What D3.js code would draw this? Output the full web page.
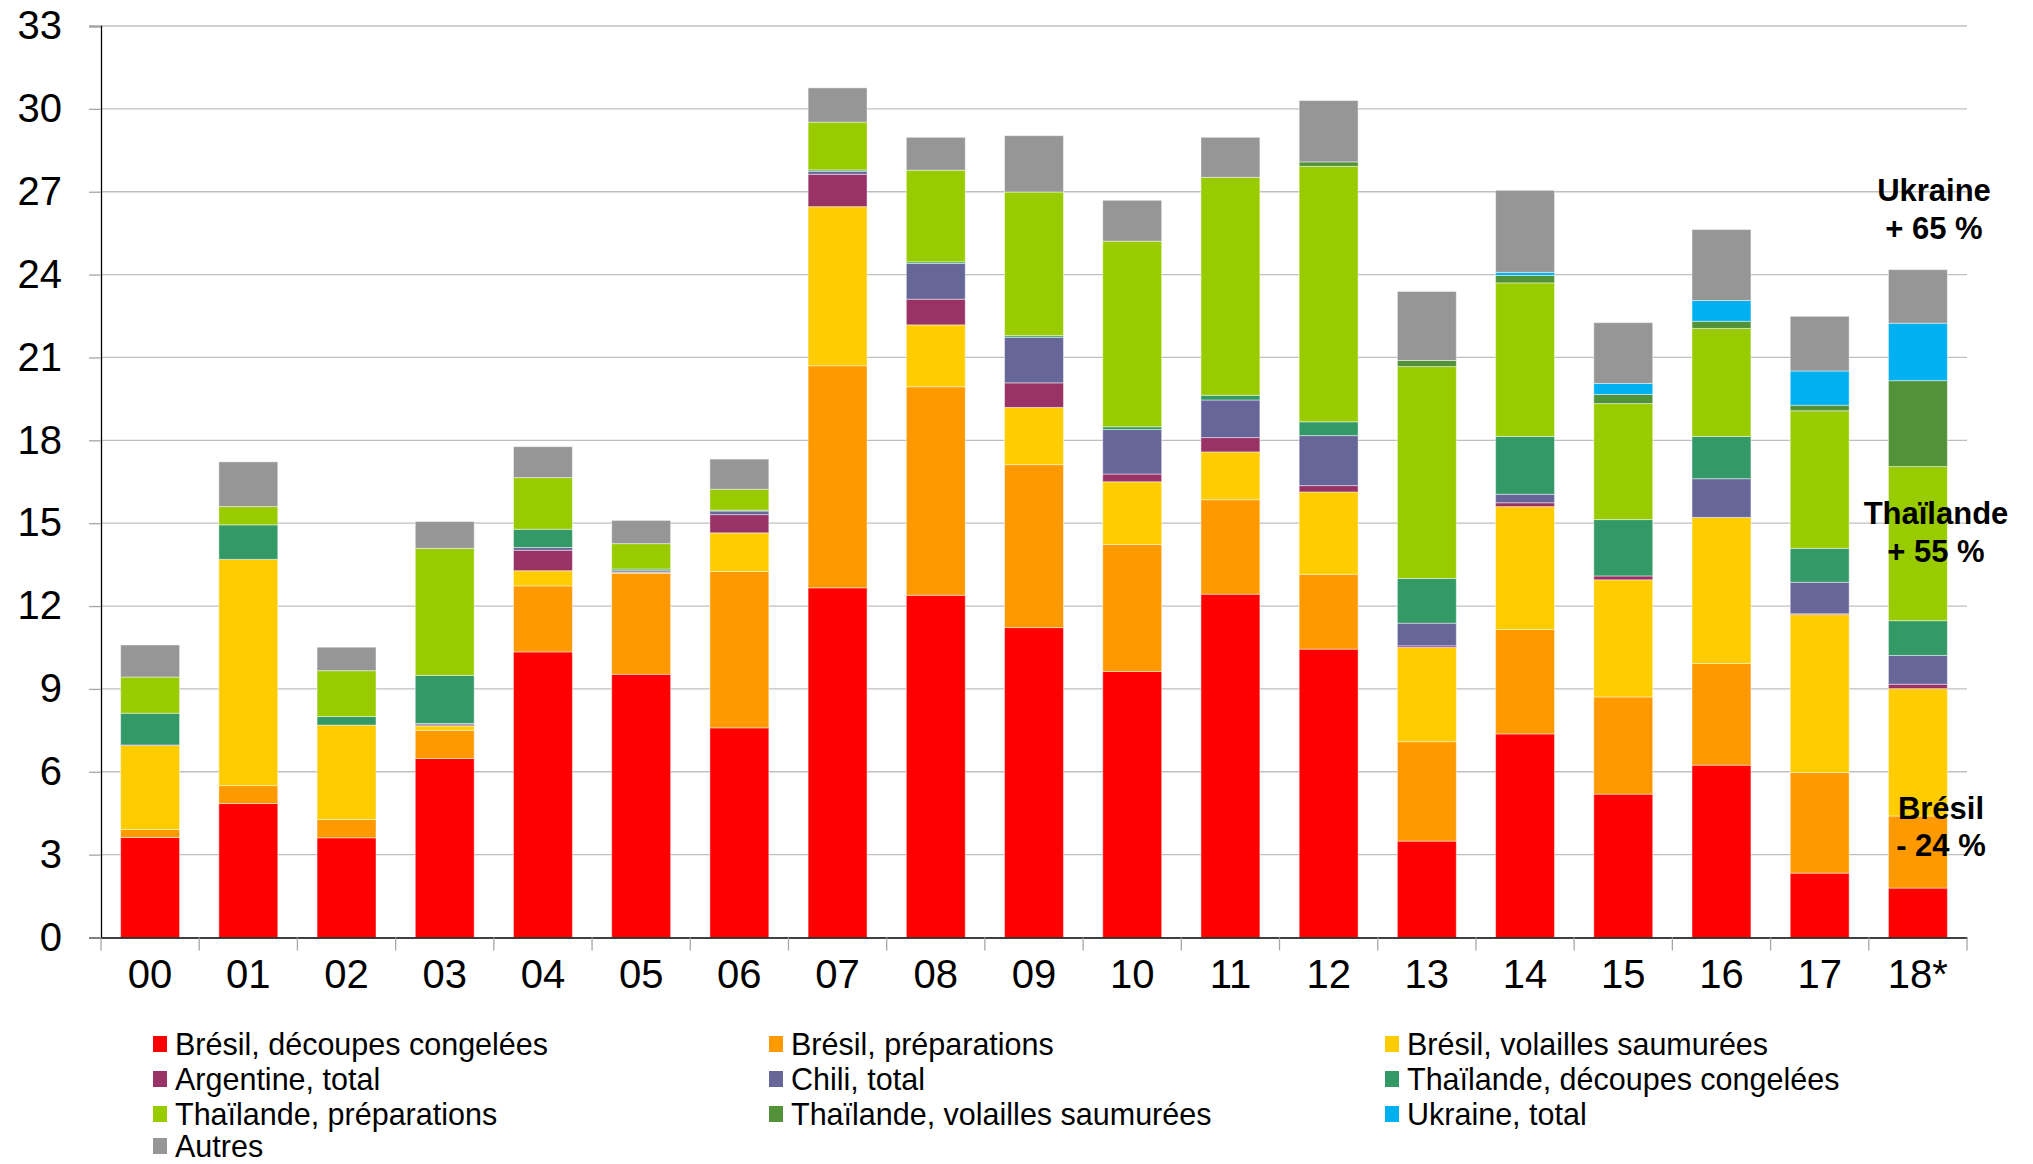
<!DOCTYPE html>
<html>
<head>
<meta charset="utf-8">
<script src="https://cdn.jsdelivr.net/npm/d3@7/dist/d3.min.js"></script>
<style>
  html, body { margin: 0; padding: 0; background: #fff; }
  svg { display: block; font-family: "Liberation Sans", Arial, sans-serif; }
</style>
</head>
<body>
<svg id="chart" width="2033" height="1164"></svg>
<script>
// Years (2018 partial)
const categories = ["00","01","02","03","04","05","06","07","08","09","10","11","12","13","14","15","16","17","18*"];

// Import volumes by origin and product
const bresilDecoupes     = [3.62,4.85,3.61,6.48,10.34,9.53,7.59,12.66,12.39,11.22,9.63,12.43,10.44,3.49,7.37,5.19,6.24,2.33,1.79];
const bresilPreparations = [0.29,0.65,0.66,1.02,2.39,3.66,5.66,8.04,7.55,5.90,4.60,3.42,2.71,3.60,3.78,3.52,3.68,3.64,2.61];
const bresilSaumurees    = [3.04,8.19,3.42,0.16,0.55,0.02,1.40,5.76,2.24,2.07,2.27,1.73,2.98,3.41,4.45,4.24,5.29,5.72,4.61];
const argentine          = [0.02,0.00,0.00,0.04,0.74,0.02,0.66,1.17,0.93,0.89,0.28,0.52,0.23,0.06,0.14,0.14,0.00,0.03,0.16];
const chili              = [0.00,0.00,0.00,0.05,0.10,0.05,0.13,0.11,1.29,1.65,1.61,1.36,1.81,0.82,0.31,0.00,1.40,1.14,1.04];
const thaiDecoupes       = [1.15,1.25,0.31,1.74,0.66,0.06,0.03,0.05,0.06,0.06,0.10,0.17,0.50,1.62,2.09,2.04,1.53,1.23,1.26];
const thaiPreparations   = [1.31,0.66,1.66,4.60,1.87,0.92,0.76,1.73,3.32,5.20,6.72,7.89,9.25,7.67,5.56,4.20,3.91,4.98,5.58];
const thaiSaumurees      = [0.00,0.00,0.00,0.00,0.00,0.00,0.00,0.00,0.00,0.00,0.00,0.00,0.16,0.22,0.27,0.33,0.26,0.20,3.11];
const ukraine            = [0.00,0.00,0.00,0.00,0.00,0.00,0.00,0.00,0.00,0.00,0.00,0.00,0.00,0.00,0.11,0.40,0.75,1.24,2.08];
const autres             = [1.16,1.62,0.85,0.97,1.12,0.84,1.09,1.24,1.19,2.04,1.48,1.45,2.22,2.50,2.97,2.20,2.57,1.98,1.94];

const seriesNames = [
  "Brésil, découpes congelées", "Brésil, préparations", "Brésil, volailles saumurées",
  "Argentine, total", "Chili, total", "Thaïlande, découpes congelées",
  "Thaïlande, préparations", "Thaïlande, volailles saumurées", "Ukraine, total",
  "Autres"
];
const seriesValues = [bresilDecoupes, bresilPreparations, bresilSaumurees, argentine, chili,
  thaiDecoupes, thaiPreparations, thaiSaumurees, ukraine, autres];
const seriesColors = ["#ff0000","#ff9900","#ffcc00","#993366","#666699",
  "#339966","#99cc00","#529339","#00b0f0","#969696"];

const yTicks = [0,3,6,9,12,15,18,21,24,27,30,33];

// Callout labels at the right end of the chart
const notes = [
  { lines: ["Ukraine", "+ 65 %"], x: 1934, y: [190, 228] },
  { lines: ["Thaïlande", "+ 55 %"], x: 1936, y: [513, 551] },
  { lines: ["Brésil", "- 24 %"], x: 1941, y: [808, 845] }
];

// Build row table for stacking
const rows = categories.map((c, i) => {
  const r = { cat: c };
  seriesNames.forEach((s, k) => { r[s] = seriesValues[k][i]; });
  return r;
});

const svg = d3.select("#chart");
const plot = { left: 101, right: 1967, top: 26, bottom: 937.5 };

const x = d3.scaleBand().domain(categories).range([plot.left, plot.right]).paddingInner(0.4).paddingOuter(0.2);
const y = d3.scaleLinear().domain([0, 33]).range([plot.bottom, plot.top]);
const color = d3.scaleOrdinal().domain(seriesNames).range(seriesColors);

// Gridlines
svg.append("g")
  .selectAll("line")
  .data(yTicks.filter(t => t > 0))
  .join("line")
  .attr("x1", plot.left).attr("x2", plot.right)
  .attr("y1", d => y(d)).attr("y2", d => y(d))
  .attr("stroke", "#bfbfbf").attr("stroke-width", 1.3);

// Stacked bars
const stacked = d3.stack().keys(seriesNames)(rows);
svg.append("g")
  .selectAll("g")
  .data(stacked)
  .join("g")
  .attr("fill", d => color(d.key))
  .selectAll("rect")
  .data(d => d)
  .join("rect")
  .attr("x", d => x(d.data.cat))
  .attr("width", x.bandwidth())
  .attr("y", d => y(d[1]))
  .attr("height", d => Math.max(0, y(d[0]) - y(d[1])))
  .attr("stroke", "#ffffff")
  .attr("stroke-opacity", 0.45)
  .attr("stroke-width", 1);

// Y axis
const yAxis = d3.axisLeft(y).tickValues(yTicks).tickSize(12).tickPadding(27).tickFormat(d3.format("d"));
const gy = svg.append("g").attr("transform", `translate(${plot.left},0)`).call(yAxis);
gy.select(".domain").attr("stroke", "#000").attr("stroke-width", 1.3);
gy.selectAll(".tick line").attr("stroke", "#a6a6a6").attr("stroke-width", 1.3);
gy.selectAll(".tick text").attr("font-size", 40).attr("fill", "#000")
  .attr("font-family", "'Liberation Sans', Arial, sans-serif");

// X axis with ticks on band boundaries
const xAxis = d3.axisBottom(x).tickSize(0).tickPadding(22);
const gx = svg.append("g").attr("transform", `translate(0,${plot.bottom})`).call(xAxis);
gx.select(".domain").attr("stroke", "#000").attr("stroke-width", 1.5);
gx.selectAll(".tick text").attr("font-size", 40).attr("fill", "#000")
  .attr("font-family", "'Liberation Sans', Arial, sans-serif");
const step = x.step();
const bounds = d3.range(categories.length + 1).map(i => plot.left + i * step);
svg.append("g")
  .selectAll("line")
  .data(bounds)
  .join("line")
  .attr("x1", d => d).attr("x2", d => d)
  .attr("y1", plot.bottom).attr("y2", plot.bottom + 13)
  .attr("stroke", "#a6a6a6").attr("stroke-width", 1.3);

// Legend (3 columns)
const legendCols = [153, 769, 1385];
const legendRows = [1044, 1079, 1114, 1146];
const legend = svg.append("g")
  .selectAll("g")
  .data(seriesNames)
  .join("g")
  .attr("transform", (d, i) => `translate(${legendCols[i % 3]},${legendRows[Math.floor(i / 3)]})`);
legend.append("rect")
  .attr("x", 0).attr("y", -8).attr("width", 14).attr("height", 16)
  .attr("fill", d => color(d));
legend.append("text")
  .attr("x", 22).attr("y", 0)
  .attr("dominant-baseline", "central")
  .attr("font-size", 30.5).attr("fill", "#000")
  .text(d => d);

// Callouts
const ng = svg.append("g");
notes.forEach(n => {
  n.lines.forEach((t, j) => {
    ng.append("text")
      .attr("x", n.x).attr("y", n.y[j])
      .attr("text-anchor", "middle")
      .attr("dominant-baseline", "central")
      .attr("font-size", 31).attr("font-weight", "bold").attr("fill", "#000")
      .text(t);
  });
});
</script>
</body>
</html>
